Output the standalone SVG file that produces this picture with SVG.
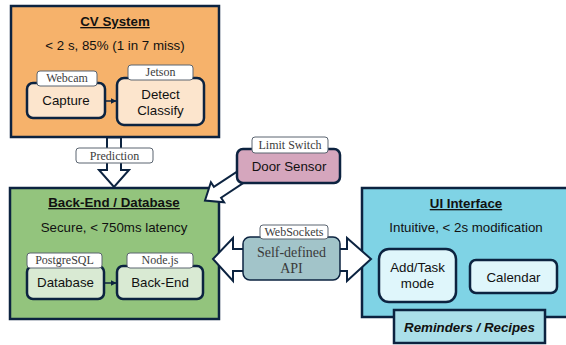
<svg xmlns="http://www.w3.org/2000/svg" width="566" height="345" viewBox="0 0 566 345">
<style>
.box{stroke:#0c2340;stroke-width:2.5}
.inner{stroke:#0c2340;stroke-width:2.5}
.tag{fill:#ffffff;stroke:#5a6470;stroke-width:1}
.tagt{font-family:"Liberation Serif","DejaVu Serif",serif;font-size:12px;fill:#3c3c3c;text-anchor:middle}
.title{font-family:"Liberation Sans",Arial,sans-serif;font-size:13.3px;font-weight:bold;fill:#111;text-anchor:middle;text-decoration:underline}
.sub{font-family:"Liberation Sans",Arial,sans-serif;font-size:13.3px;fill:#111;text-anchor:middle}
.lbl{font-family:"Liberation Sans",Arial,sans-serif;font-size:13.3px;fill:#111;text-anchor:middle}
.big{fill:#ffffff;stroke:#0c2340;stroke-width:2;stroke-linejoin:miter}
.thin{stroke:#0c2340;stroke-width:1.5;fill:none}
</style>
<defs>
<marker id="ah" viewBox="0 0 10 10" refX="9" refY="5" markerWidth="4" markerHeight="4" orient="auto">
<path d="M0,0 L10,5 L0,10 z" fill="#0c2340"/>
</marker>
</defs>

<g id="cv-system">
<rect class="box" x="11" y="6" width="208" height="131" fill="#f6b26b"/>
<text class="title" x="115" y="26">CV System</text>
<text class="sub" x="115" y="50">&lt; 2 s, 85% (1 in 7 miss)</text>
</g>
<g id="capture">
<rect class="inner" x="27" y="83" width="78" height="35" rx="6" fill="#fce5cd"/>
<rect class="tag" x="37" y="71" width="60" height="15" rx="3"/>
<text class="tagt" x="67" y="82">Webcam</text>
<text class="lbl" x="66" y="105">Capture</text>
</g>
<g id="detect">
<rect class="inner" x="117" y="78" width="87" height="47" rx="7" fill="#fce5cd"/>
<rect class="tag" x="128" y="65" width="65" height="15" rx="3"/>
<text class="tagt" x="160.5" y="76">Jetson</text>
<text class="lbl" x="160.5" y="99">Detect</text>
<text class="lbl" x="160.5" y="115">Classify</text>
</g>

<g id="backend-database">
<rect class="box" x="10" y="188" width="209" height="131" fill="#93c47d"/>
<text class="title" x="114" y="207">Back-End / Database</text>
<text class="sub" x="114" y="232">Secure, &lt; 750ms latency</text>
</g>
<g id="database">
<rect class="inner" x="27" y="266" width="77" height="33" rx="6" fill="#d9ead3"/>
<rect class="tag" x="27" y="253" width="75" height="15" rx="3"/>
<text class="tagt" x="64.5" y="264">PostgreSQL</text>
<text class="lbl" x="65.5" y="287">Database</text>
</g>
<g id="backend">
<rect class="inner" x="117" y="266" width="86" height="33" rx="6" fill="#d9ead3"/>
<rect class="tag" x="127" y="253" width="66" height="15" rx="3"/>
<text class="tagt" x="160" y="264">Node.js</text>
<text class="lbl" x="160" y="287">Back-End</text>
</g>

<g id="ui-interface">
<rect class="box" x="362" y="188" width="212" height="129" fill="#7fd3e5"/>
<text class="title" x="466" y="208">UI Interface</text>
<text class="sub" x="466" y="232">Intuitive, &lt; 2s modification</text>
</g>
<g id="add-task">
<rect class="inner" x="379" y="249" width="77" height="53" rx="10" fill="#dff6fb"/>
<text class="lbl" x="417.5" y="272">Add/Task</text>
<text class="lbl" x="417.5" y="288">mode</text>
</g>
<g id="calendar">
<rect class="inner" x="470" y="260" width="87" height="33" rx="6" fill="#dff6fb"/>
<text class="lbl" x="513.5" y="282">Calendar</text>
</g>
<g id="reminders-recipes">
<rect class="inner" x="394" y="310" width="151" height="33" fill="#aadfe9"/>
<text class="lbl" x="469.5" y="332" font-weight="bold" font-style="italic">Reminders / Recipes</text>
</g>

<g id="connectors">
<line class="thin" x1="105" y1="101" x2="116" y2="101" marker-end="url(#ah)"/>
<line class="thin" x1="104" y1="283" x2="116" y2="283" marker-end="url(#ah)"/>
<polygon class="big" points="107,137.5 121,137.5 121,170 129,170 114,187 99,170 107,170"/>
<polygon class="big" points="254.5,175.7 221.1,197.7 224.1,202.3 205,200.5 210.9,182.2 213.9,186.8 247.3,164.9"/>
<polygon class="big" points="213,259 233,238 233,249 347,249 347,238 371,259 347,281 347,271 233,271 233,281"/>
</g>

<g id="prediction-label">
<rect class="tag" x="76" y="148" width="77" height="15" rx="3"/>
<text class="tagt" x="114.5" y="160">Prediction</text>
</g>

<g id="door-sensor">
<rect class="inner" x="237" y="149" width="103" height="34" rx="6" fill="#d5a6bd" stroke-width="1.5"/>
<rect class="tag" x="252" y="137" width="76" height="16" rx="3"/>
<text class="tagt" x="290" y="149">Limit Switch</text>
<text class="lbl" x="289" y="171">Door Sensor</text>
</g>

<g id="api">
<rect x="243" y="237" width="97" height="43" rx="7" fill="#a2c4c9" stroke="#0c2340" stroke-width="1.5"/>
<rect class="tag" x="260" y="225" width="68" height="14" rx="3"/>
<text class="tagt" x="294" y="236" font-size="11">WebSockets</text>
<text x="291.5" y="257" font-family="'Liberation Serif','DejaVu Serif',serif" font-size="14" fill="#3a3a3a" text-anchor="middle">Self-defined</text>
<text x="291.5" y="273" font-family="'Liberation Serif','DejaVu Serif',serif" font-size="14" fill="#3a3a3a" text-anchor="middle">API</text>
</g>
</svg>
